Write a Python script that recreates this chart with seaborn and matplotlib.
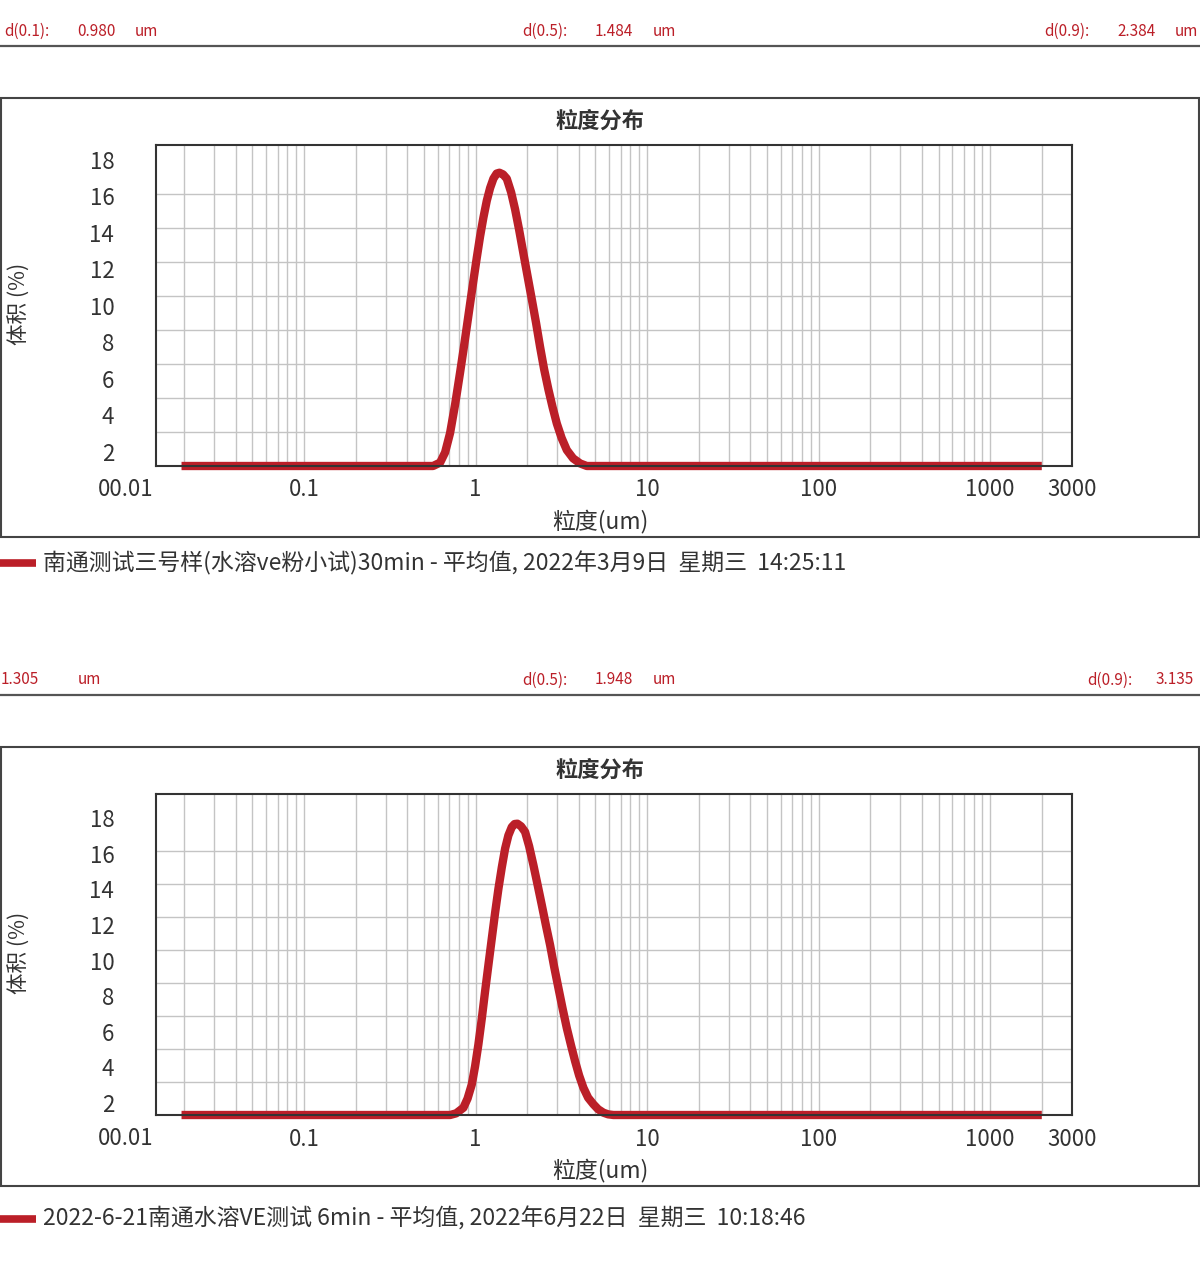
import numpy as np
import pandas as pd
import matplotlib
matplotlib.use("Agg")
import matplotlib.pyplot as plt
import seaborn as sns
from matplotlib.lines import Line2D
from matplotlib.patches import Rectangle
from matplotlib.ticker import FixedLocator, LogLocator, NullFormatter

# --- Données ---
# échantillon 1 : 南通测试三号样 (30min)
sizes_a = [0.0193, 0.565, 0.621, 0.664, 0.710, 0.759, 0.812, 0.849, 0.889, 0.929, 0.971,
           1.016, 1.062, 1.110, 1.162, 1.215, 1.270, 1.326, 1.377, 1.446, 1.520, 1.611,
           1.699, 1.793, 1.900, 2.010, 2.127, 2.253, 2.377, 2.508, 2.658, 2.812, 2.975,
           3.173, 3.402, 3.703, 4.068, 4.451, 2000]
vol_a = [0.0, 0.0, 0.2, 0.8, 1.94, 3.6, 5.5, 6.8, 8.2, 9.55, 10.9,
         12.25, 13.5, 14.6, 15.6, 16.35, 16.9, 17.2, 17.25, 17.15, 16.9, 16.1,
         15.1, 13.9, 12.5, 11.15, 9.8, 8.4, 7.0, 5.7, 4.5, 3.45, 2.5,
         1.65, 0.94, 0.45, 0.15, 0.0, 0.0]

# échantillon 2 : 2022-6-21南通水溶VE测试 6min
sizes_b = [0.0193, 0.710, 0.770, 0.849, 0.898, 0.950, 0.993, 1.038, 1.087, 1.136, 1.188,
           1.243, 1.299, 1.358, 1.421, 1.486, 1.553, 1.626, 1.688, 1.753, 1.842, 1.944,
           2.051, 2.173, 2.299, 2.432, 2.570, 2.719, 2.869, 3.040, 3.216, 3.402, 3.605,
           3.803, 4.013, 4.252, 4.529, 4.863, 5.180, 5.562, 5.925, 6.362, 2000]
vol_b = [0.0, 0.0, 0.1, 0.44, 1.0, 1.85, 2.95, 4.27, 5.85, 7.5, 9.1,
         10.7, 12.25, 13.7, 15.0, 16.15, 16.95, 17.46, 17.64, 17.66, 17.5, 17.16,
         16.3, 15.15, 13.95, 12.73, 11.5, 10.3, 9.0, 7.7, 6.45, 5.27, 4.2,
         3.26, 2.4, 1.65, 1.05, 0.65, 0.35, 0.14, 0.04, 0.0, 0.0]

legend_a = "南通测试三号样(水溶ve粉小试)30min - 平均值, 2022年3月9日  星期三  14:25:11"
legend_b = "2022-6-21南通水溶VE测试 6min - 平均值, 2022年6月22日  星期三  10:18:46"

# en-têtes : (texte, x en pixels)
header_a = [("d(0.1):", 4), ("0.980", 77), ("um", 135),
            ("d(0.5):", 522), ("1.484", 595), ("um", 653),
            ("d(0.9):", 1044), ("2.384", 1117), ("um", 1175)]
header_b = [("1.305", 1), ("um", 78),
            ("d(0.5):", 522), ("1.948", 595), ("um", 653),
            ("d(0.9):", 1087), ("3.135", 1156)]

x_ticks = [0.1, 1, 10, 100, 1000, 3000]
x_labels = ["0.1", "1", "10", "100", "1000", "3000"]
y_values = [2, 4, 6, 8, 10, 12, 14, 16, 18]

# --- Style ---
sns.set_style("white")
plt.rcParams['font.family'] = ['Noto Sans CJK SC', 'DejaVu Sans']

RED = "#bb1f28"
TXT = "#333333"
W, H = 1200, 1280
fig = plt.figure(figsize=(12, 12.8), dpi=100)


def fx(px):
    return px / W


def fy(py):
    return 1 - py / H


def panel(top, sizes, vol, header, legend, legend_y, ymax, label_scale):
    # en-tête rouge + trait
    for txt, x in header:
        fig.text(fx(x), fy(top + 31), txt, color=RED, fontsize=11, va="center", ha="left")
    fig.add_artist(Line2D([0, 1], [fy(top + 46)] * 2, color="#555555", lw=1.6))

    # cadre extérieur
    fig.add_artist(Rectangle((fx(1), fy(top + 537)), fx(1198), (537 - 98) / H,
                             fill=False, edgecolor="#444444", lw=1.5))
    fig.text(0.5, fy(top + 121), "粒度分布", fontsize=16, fontweight="bold",
             ha="center", va="center", color=TXT)

    ax = fig.add_axes([fx(156), fy(top + 466), fx(1072 - 156), (466 - 145) / H])
    df = pd.DataFrame({"size": sizes, "vol": vol})
    sns.lineplot(data=df, x="size", y="vol", ax=ax, color=RED, lw=6,
                 solid_capstyle="butt", solid_joinstyle="round", clip_on=False, legend=False)
    ax.set_xscale("log")
    ax.set_xlim(0.0137, 3000)
    ax.set_ylim(0, ymax)

    # grille verticale
    ax.xaxis.set_major_locator(FixedLocator(x_ticks))
    ax.set_xticklabels(x_labels)
    ax.xaxis.set_minor_locator(LogLocator(base=10, subs=np.arange(2, 10), numticks=20))
    ax.xaxis.set_minor_formatter(NullFormatter())
    ax.grid(True, which="both", axis="x", color="#c4c4c4", lw=1)

    # grille horizontale (mineure) et étiquettes décalées (majeures), comme l'original
    ax.yaxis.set_minor_locator(FixedLocator(y_values))
    ax.grid(True, which="minor", axis="y", color="#c4c4c4", lw=1)
    ax.yaxis.set_major_locator(FixedLocator([18 - (18 - v) * label_scale for v in y_values]))
    ax.set_yticklabels([str(v) for v in y_values])

    ax.tick_params(axis="both", which="both", length=0, labelsize=16, colors=TXT)
    ax.tick_params(axis="y", pad=30)
    ax.tick_params(axis="x", pad=9)
    ax.text(-0.003, -0.072, "00.01", transform=ax.transAxes, ha="right", va="center",
            fontsize=16, color=TXT)

    for s in ax.spines.values():
        s.set_color("#333333")
        s.set_linewidth(1.5)
    ax.set_xlabel("")
    ax.set_ylabel("")
    ax.set_axisbelow(True)

    fig.text(0.5, fy(top + 521), "粒度(um)", fontsize=16.5, ha="center", va="center", color=TXT)
    fig.text(fx(20), fy(top + 304), "体积 (%)", fontsize=15.5, rotation=90,
             ha="center", va="center", color=TXT)

    # légende
    fig.add_artist(Line2D([0, fx(36)], [fy(top + legend_y)] * 2, color=RED, lw=5.5,
                          solid_capstyle="butt"))
    fig.text(fx(43), fy(top + legend_y), legend, fontsize=16.5, ha="left", va="center", color=TXT)


panel(0, sizes_a, vol_a, header_a, legend_a, 563, 18.88, 1.0735)
panel(649, sizes_b, vol_b, header_b, legend_b, 570, 19.46, 1.08)

fig.savefig("out.png", dpi=100, facecolor="white")
